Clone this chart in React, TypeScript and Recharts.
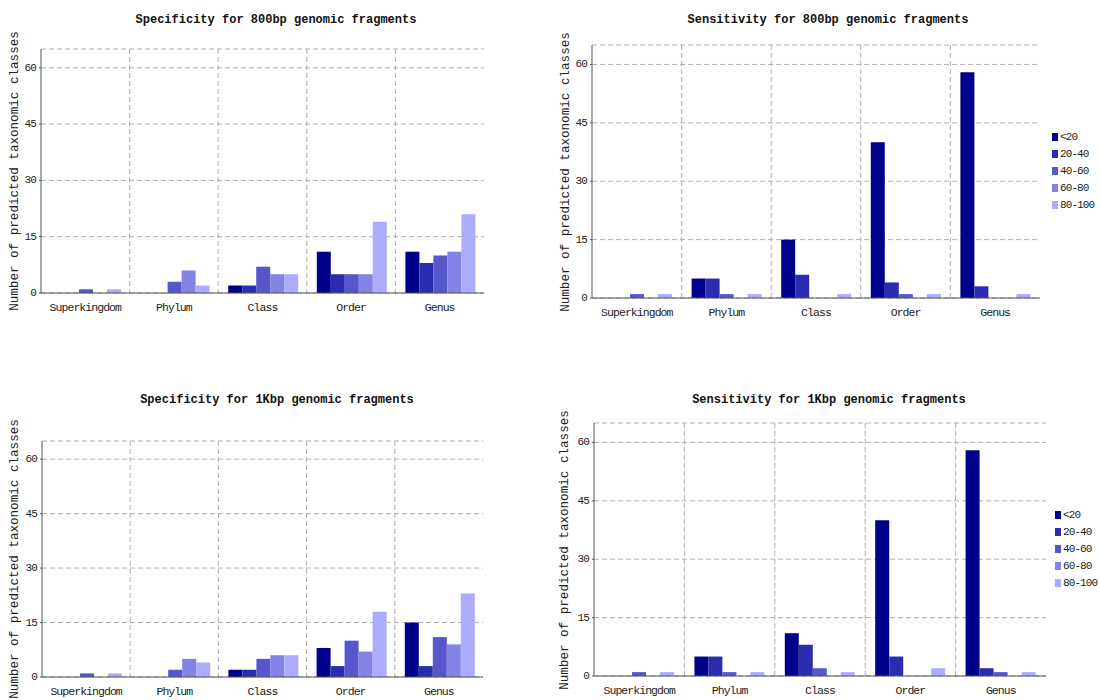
import { BarChart, Bar, XAxis, YAxis, CartesianGrid, Legend } from 'recharts';

const FONT = '"Liberation Mono", "Courier New", monospace';

const categories = ['Superkingdom', 'Phylum', 'Class', 'Order', 'Genus'];
const bins = ['<20', '20-40', '40-60', '60-80', '80-100'];
const binColors = ['#00008b', '#2c2cb0', '#5757cc', '#8383e6', '#acacff'];
const yTicks = [0, 15, 30, 45, 60];

// one row per bin, values follow the category order
const spec800 = [
  [0, 0, 2, 11, 11],
  [0, 0, 2, 5, 8],
  [1, 3, 7, 5, 10],
  [0, 6, 5, 5, 11],
  [1, 2, 5, 19, 21],
];
const sens800 = [
  [0, 5, 15, 40, 58],
  [0, 5, 6, 4, 3],
  [1, 1, 0, 1, 0],
  [0, 0, 0, 0, 0],
  [1, 1, 1, 1, 1],
];
const spec1k = [
  [0, 0, 2, 8, 15],
  [0, 0, 2, 3, 3],
  [1, 2, 5, 10, 11],
  [0, 5, 6, 7, 9],
  [1, 4, 6, 18, 23],
];
const sens1k = [
  [0, 5, 11, 40, 58],
  [0, 5, 8, 5, 2],
  [1, 1, 2, 0, 1],
  [0, 0, 0, 0, 0],
  [1, 1, 1, 2, 1],
];

const buildRows = (series: number[][]) =>
  categories.map((name, ci) => {
    const row: Record<string, string | number> = { name };
    bins.forEach((b, bi) => {
      row[b] = series[bi][ci];
    });
    return row;
  });

const XTick = (props: any) => {
  const { x, y, payload } = props;
  return (
    <text
      x={x}
      y={y + 6}
      textAnchor="middle"
      dominantBaseline="central"
      fontFamily={FONT}
      fontSize={11.5}
      letterSpacing={-0.95}
      fill="#222"
    >
      {payload.value}
    </text>
  );
};

const YTick = (props: any) => {
  const { x, y, payload } = props;
  return (
    <text
      x={x}
      y={y}
      textAnchor="end"
      dominantBaseline="central"
      fontFamily={FONT}
      fontSize={11}
      letterSpacing={-0.9}
      fill="#222"
    >
      {payload.value}
    </text>
  );
};

const LegendBox = (props: any) => {
  const items = [...(props.payload || [])].sort(
    (a: any, b: any) => bins.indexOf(a.value) - bins.indexOf(b.value)
  );
  return (
    <div style={{ fontFamily: FONT, fontSize: 11, letterSpacing: -0.9, color: '#222' }}>
      {items.map((p: any) => (
        <div key={p.value} style={{ display: 'flex', alignItems: 'center', height: 17 }}>
          <span style={{ width: 6, height: 8, background: p.color, marginRight: 2 }} />
          <span>{p.value}</span>
        </div>
      ))}
    </div>
  );
};

interface PanelProps {
  x: number;
  y: number;
  w: number;
  h: number;
  plot: { l: number; r: number; t: number; b: number };
  title: string;
  titleX: number;
  titleY: number;
  labelX: number;
  series: number[][];
  legend?: { x: number; y: number };
}

function Panel({ x, y, w, h, plot, title, titleX, titleY, labelX, series, legend }: PanelProps) {
  const rows = buildRows(series);
  return (
    <>
      <div
        style={{
          position: 'absolute',
          left: titleX - 200,
          top: titleY - 8,
          width: 400,
          textAlign: 'center',
          fontFamily: FONT,
          fontWeight: 'bold',
          fontSize: 12,
          lineHeight: '16px',
          color: '#111',
        }}
      >
        {title}
      </div>
      <div
        style={{
          position: 'absolute',
          left: labelX,
          top: (plot.t + plot.b) / 2,
          transform: 'translate(-50%, -50%) rotate(-90deg)',
          whiteSpace: 'nowrap',
          fontFamily: FONT,
          fontSize: 12.6,
          lineHeight: 1,
          color: '#222',
        }}
      >
        Number of predicted taxonomic classes
      </div>
      <div style={{ position: 'absolute', left: x, top: y }}>
        <BarChart
          width={w}
          height={h}
          data={rows}
          margin={{ top: plot.t - y, right: x + w - plot.r, left: 0, bottom: 0 }}
          barGap={0}
          barCategoryGap={10}
        >
          <CartesianGrid
            stroke="#b0b0b0"
            strokeDasharray="5 3"
            verticalCoordinatesGenerator={(p: any) => {
              const left = p.offset ? p.offset.left : plot.l - x;
              const width = p.offset ? p.offset.width : plot.r - plot.l;
              return categories.slice(1).map((_, i) => left + ((i + 1) * width) / categories.length);
            }}
          />
          <XAxis
            dataKey="name"
            height={y + h - plot.b}
            interval={0}
            tickLine={false}
            axisLine={{ stroke: '#555' }}
            tick={<XTick />}
          />
          <XAxis
            xAxisId="top"
            dataKey="name"
            orientation="top"
            height={0}
            tick={false}
            tickLine={false}
            axisLine={{ stroke: '#a8a8a8' }}
          />
          <YAxis
            width={plot.l - x}
            domain={[0, 65]}
            ticks={yTicks}
            tickSize={2}
            tickMargin={3}
            tick={<YTick />}
            axisLine={{ stroke: '#555' }}
            tickLine={{ stroke: '#555' }}
          />
          <YAxis
            yAxisId="right"
            orientation="right"
            width={0}
            domain={[0, 65]}
            tick={false}
            tickLine={false}
            axisLine={{ stroke: '#c8c8c8' }}
          />
          {legend && (
            <Legend
              layout="vertical"
              align="center"
              verticalAlign="middle"
              itemSorter={null as any}
              wrapperStyle={{ left: legend.x - x, top: legend.y - y, width: 60 }}
              content={<LegendBox />}
            />
          )}
          {bins.map((b, i) => (
            <Bar key={b} dataKey={b} fill={binColors[i]} isAnimationActive={false} />
          ))}
        </BarChart>
      </div>
    </>
  );
}

export default function App() {
  return (
    <div
      style={{
        position: 'absolute',
        left: 0,
        top: 0,
        width: 1100,
        height: 700,
        background: '#fff',
        overflow: 'hidden',
      }}
    >
      <Panel
        x={0}
        y={30}
        w={500}
        h={290}
        plot={{ l: 41, r: 484, t: 49, b: 293 }}
        title="Specificity for 800bp genomic fragments"
        titleX={276}
        titleY={20}
        labelX={15}
        series={spec800}
      />
      <Panel
        x={545}
        y={30}
        w={555}
        h={290}
        plot={{ l: 592, r: 1040, t: 45, b: 298 }}
        title="Sensitivity for 800bp genomic fragments"
        titleX={828}
        titleY={20}
        labelX={566}
        series={sens800}
        legend={{ x: 1052, y: 128 }}
      />
      <Panel
        x={0}
        y={420}
        w={500}
        h={280}
        plot={{ l: 42, r: 483, t: 441, b: 677 }}
        title="Specificity for 1Kbp genomic fragments"
        titleX={277}
        titleY={400}
        labelX={15}
        series={spec1k}
      />
      <Panel
        x={545}
        y={410}
        w={555}
        h={290}
        plot={{ l: 594, r: 1046, t: 423, b: 676 }}
        title="Sensitivity for 1Kbp genomic fragments"
        titleX={829}
        titleY={400}
        labelX={565}
        series={sens1k}
        legend={{ x: 1055, y: 506 }}
      />
    </div>
  );
}
